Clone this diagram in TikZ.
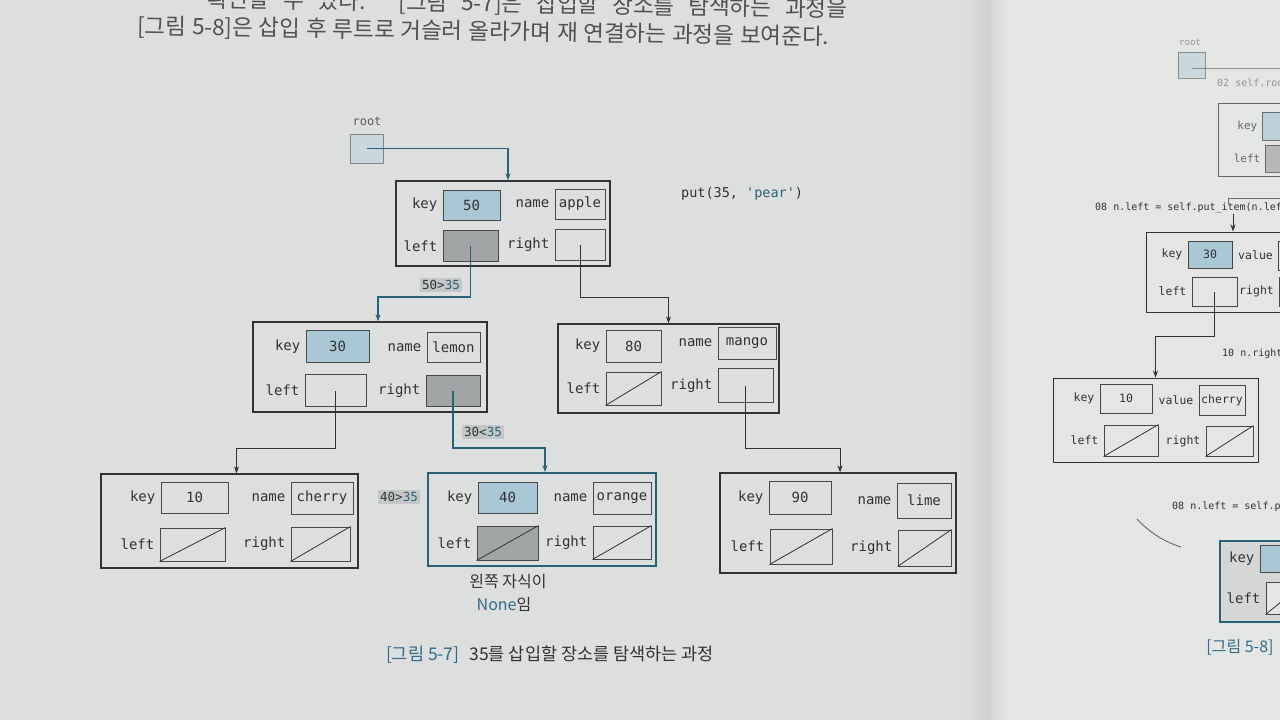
\documentclass[tikz,border=0pt]{standalone}
\usepackage{fontspec}
\newfontfamily\mono{DejaVu Sans Mono}
\newfontfamily\kr{Noto Sans CJK KR}
\usetikzlibrary{arrows.meta,positioning,calc}
\definecolor{pageL}{RGB}{220,223,221}
\definecolor{pageR}{RGB}{228,230,228}
\definecolor{gutter}{RGB}{208,211,209}
\definecolor{ink}{RGB}{48,50,52}
\definecolor{pathc}{RGB}{40,98,120}
\definecolor{keyblue}{RGB}{170,199,213}
\definecolor{rootblue}{RGB}{200,216,222}
\definecolor{boxgray}{RGB}{162,165,165}
\definecolor{lblbg}{RGB}{195,199,199}
\definecolor{capblue}{RGB}{48,108,140}
% field: name, x, y, w, h, style, text, label
\newcommand\fld[8]{%
  \node[cell,minimum width=#4pt,minimum height=#5pt,#6] (#1) at (#2,#3) {#7};
  \node[lbl,left=5pt of #1] (#1t) {#8};}
\begin{document}
\begin{tikzpicture}[x=1pt,y=-1pt,
  rec/.style={draw=ink,line width=1.3pt,rectangle,inner sep=0pt},
  hotrec/.style={rec,draw=pathc,line width=1.8pt},
  cell/.style={draw=ink!90,line width=0.9pt,rectangle,inner sep=0pt,font=\mono\fontsize{14}{16}\selectfont,text=ink},
  lbl/.style={font=\mono\fontsize{14}{16}\selectfont,text=ink,inner sep=0pt},
  conn/.style={draw=ink,line width=0.9pt,-{Stealth[length=7pt,width=5pt]}},
  hot/.style={conn,draw=pathc,line width=1.3pt},
  cmp/.style={fill=lblbg,font=\mono\fontsize{12.5}{14}\selectfont,text=ink,inner sep=2.5pt},
  krt/.style={font=\kr\fontsize{16}{19}\selectfont,text=ink,inner sep=0pt},
  hdr/.style={font=\kr\fontsize{22.5}{26}\selectfont,text=ink!85,inner sep=0pt},
  nil/.style={draw=ink,line width=0.8pt},
  code/.style={font=\mono\fontsize{10}{12}\selectfont,text=ink,inner sep=0pt}
]
\useasboundingbox (0,0) rectangle (1280,720);
\clip (0,0) rectangle (1280,720);
% pages
\fill[pageL] (0,0) rectangle (988,720);
\fill[pageR] (988,0) rectangle (1280,720);
\shade[left color=pageL,right color=gutter] (962,0) rectangle (988,720);
\shade[left color=gutter,right color=pageR] (988,0) rectangle (1008,720);

% header text
\node[hdr,anchor=base west,rotate=-0.9] (h1) at (207,7) {\makebox[640pt][s]{확인할 수 있다. [그림 5-7]은 삽입할 장소를 탐색하는 과정을}};
\node[hdr,anchor=base west,rotate=-0.9] (h2) at (137,34) {\makebox[692pt][s]{[그림 5-8]은 삽입 후 루트로 거슬러 올라가며 재 연결하는 과정을 보여준다.}};

% root
\node[font=\mono\fontsize{12}{14}\selectfont,text=ink!80,inner sep=0pt] (rootlbl) at (367,121) {root};
\node[draw=ink!60,fill=rootblue,line width=0.8pt,minimum width=33pt,minimum height=29pt,inner sep=0pt] (root) at (366.5,148.5) {};

% node 50
\node[rec,minimum width=214pt,minimum height=85pt] (n50) at (503,223.5) {};
\fld{n50k}{471.5}{205}{57}{30}{fill=keyblue}{50}{key}
\fld{n50n}{580}{204}{50}{30}{}{apple}{name}
\fld{n50l}{470.5}{246}{55}{31}{fill=boxgray}{}{left}
\fld{n50r}{580}{245}{50}{31}{}{}{right}

\node[font=\mono\fontsize{13.5}{16}\selectfont,text=ink,anchor=west,inner sep=0pt] (put) at (681,194) {put(35, \textcolor{pathc}{\textquotesingle pear\textquotesingle})};

% node 30
\node[rec,minimum width=234pt,minimum height=90pt] (n30) at (370,367) {};
\fld{n30k}{337.5}{346.5}{63}{32}{fill=keyblue}{30}{key}
\fld{n30n}{453.5}{347.5}{53}{30}{}{lemon}{name}
\fld{n30l}{335.5}{390.5}{61}{32}{}{}{left}
\fld{n30r}{453}{391}{54}{31}{fill=boxgray}{}{right}

% node 80
\node[rec,minimum width=221pt,minimum height=89pt] (n80) at (668.5,368.5) {};
\fld{n80k}{633.5}{346}{55}{32}{}{80}{key}
\fld{n80n}{747}{343}{58}{32}{}{mango}{name}
\fld{n80l}{633.5}{388.5}{55}{33}{}{}{left}
\fld{n80r}{745.5}{385.5}{55}{34}{}{}{right}

% node 10
\node[rec,minimum width=257pt,minimum height=94pt] (n10) at (229.5,521) {};
\fld{n10k}{194.5}{497.5}{67}{31}{}{10}{key}
\fld{n10n}{322}{498}{62}{32}{}{cherry}{name}
\fld{n10l}{192.5}{544.5}{65}{33}{}{}{left}
\fld{n10r}{320.5}{544}{59}{34}{}{}{right}

% node 40
\node[hotrec,minimum width=228pt,minimum height=93pt] (n40) at (542,519.5) {};
\fld{n40k}{507.5}{497.5}{59}{31}{fill=keyblue}{40}{key}
\fld{n40n}{622}{498}{58}{32}{}{orange}{name}
\fld{n40l}{507.5}{543}{61}{34}{fill=boxgray}{}{left}
\fld{n40r}{622}{542.5}{58}{33}{}{}{right}

% node 90
\node[rec,minimum width=236pt,minimum height=100pt] (n90) at (838,523) {};
\fld{n90k}{800}{497.5}{62}{33}{}{90}{key}
\fld{n90n}{924}{500.5}{54}{35}{}{lime}{name}
\fld{n90l}{801}{546.5}{62}{35}{}{}{left}
\fld{n90r}{924.5}{548}{53}{36}{}{}{right}

\foreach \c in {n80l,n10l,n10r,n40l,n40r,n90l,n90r}
  \draw[nil] (\c.south west) -- (\c.north east);

% connectors
\coordinate (lv1) at (0,297);
\coordinate (lv2) at (0,448);
\draw[hot] (root.center) -| ([xshift=5pt]n50.north);
\draw[hot] (n50l.center) -- (n50l.center |- lv1) -| ([xshift=8pt]n30.north);
\draw[conn] (n50r.center) -- (n50r.center |- lv1) -| (n80.north);
\draw[conn] (n30l.center) -- (n30l.center |- lv2) -| ([xshift=7pt]n10.north);
\draw[hot] (n30r.center) -- (n30r.center |- lv2) -| ([xshift=3pt]n40.north);
\draw[conn] (n80r.center) -- (n80r.center |- lv2) -| ([xshift=2pt]n90.north);

% comparison labels
\node[cmp] (c1) at (441,285) {50>\textcolor{pathc}{35}};
\node[cmp] (c2) at (483,432) {30<\textcolor{pathc}{35}};
\node[cmp] (c3) at (399,497) {40>\textcolor{pathc}{35}};

% note under 40
\node[krt] (note1) at (508,582) {왼쪽 자식이};
\node[krt] (note2) at (504,604) {\textcolor{capblue}{None}임};

% caption
\node[font=\kr\fontsize{17.5}{20}\selectfont,text=ink,inner sep=0pt] (cap) at (550,655) {\textcolor{capblue}{[그림 5-7]}\hspace{10pt}35를 삽입할 장소를 탐색하는 과정};

% ---------------- right page (partly visible) ----------------
\begin{scope}[opacity=0.45]
  \node[font=\mono\fontsize{9}{10}\selectfont,text=ink,inner sep=0pt] (rrootlbl) at (1190,42) {root};
  \node[draw=ink,fill=keyblue,line width=0.7pt,minimum width=27pt,minimum height=26pt,inner sep=0pt] (rroot) at (1191.5,65) {};
  \coordinate (rrootend) at (1290,68);
  \draw[ink,line width=0.8pt] (rroot.center |- rrootend) -- (rrootend);
  \node[code,anchor=west] (rc02) at (1217,84) {02 self.root = self.put\_item(};
\end{scope}
\begin{scope}[opacity=0.7]
  \node[rec,line width=1pt,minimum width=90pt,minimum height=73pt] (rtop) at (1263,139.5) {};
  \node[cell,fill=keyblue,minimum width=40pt,minimum height=28pt] (rtopk) at (1282,126) {};
  \node[lbl,font=\mono\fontsize{11}{13}\selectfont,left=4pt of rtopk] (rtopkt) {key};
  \node[cell,fill=boxgray,minimum width=40pt,minimum height=27pt] (rtopl) at (1285,158.5) {};
  \node[lbl,font=\mono\fontsize{11}{13}\selectfont,left=4pt of rtopl] (rtoplt) {left};
\end{scope}
\draw[ink!70,line width=0.7pt] (1228,204) -- (1228,198) -- (1290,198);
\node[code,anchor=west] (rc08a) at (1095,208) {08 n.left = self.put\_item(n.left, key, value)};

\begin{scope}[cell/.append style={font=\mono\fontsize{11.5}{13}\selectfont},lbl/.append style={font=\mono\fontsize{11.5}{13}\selectfont}]
  % node 30 (right page)
  \node[rec,line width=1pt,minimum width=160pt,minimum height=80pt] (r30) at (1226,272) {};
  \fld{r30k}{1210}{254.5}{44}{27}{fill=keyblue}{30}{key}
  \fld{r30v}{1300}{255.5}{43}{29}{}{}{value}
  \fld{r30l}{1214.5}{291.5}{45}{29}{}{}{left}
  \fld{r30r}{1301}{291.5}{43}{29}{}{}{right}
  % node 10 (right page)
  \node[rec,line width=1pt,minimum width=205pt,minimum height=84pt] (r10) at (1155.5,420) {};
  \fld{r10k}{1126}{398.5}{52}{29}{}{10}{key}
  \fld{r10v}{1222}{400}{46}{30}{}{cherry}{value}
  \fld{r10l}{1131}{440.5}{54}{31}{}{}{left}
  \fld{r10r}{1229.5}{441}{47}{30}{}{}{right}
\end{scope}
\foreach \c in {r10l,r10r}
  \draw[nil] (\c.south west) -- (\c.north east);
\coordinate (ra) at (1233,214);
\draw[conn,line width=0.7pt] (ra) -- (ra |- r30.north);
\coordinate (lv3) at (0,336);
\draw[conn,line width=0.8pt] (r30l.center) -- (r30l.center |- lv3) -| (r10.north);
\node[code,anchor=west] (rc10) at (1222,354) {10 n.right = self.put\_item(};
\node[code,anchor=west] (rc08b) at (1172,507) {08 n.left = self.put\_item(};
\draw[ink!80,line width=0.8pt] (1137,519) .. controls (1150,533) and (1165,542) .. (1181,547);

% bottom partial node (right page)
\node[rec,draw=pathc,line width=1.8pt,fill=boxgray!45,minimum width=90pt,minimum height=81pt] (rbot) at (1265,581.5) {};
\node[cell,fill=keyblue,minimum width=44pt,minimum height=27pt] (rbotk) at (1282,558.5) {};
\node[lbl,left=5pt of rbotk] (rbotkt) {key};
\node[cell,fill=pageR,minimum width=40pt,minimum height=32pt] (rbotl) at (1286,598) {};
\node[lbl,left=5pt of rbotl] (rbotlt) {left};
\draw[nil] (rbotl.south west) -- (rbotl.north east);
\node[font=\kr\fontsize{16}{19}\selectfont,text=capblue,inner sep=0pt] (cap2) at (1240,647) {[그림 5-8]};
\end{tikzpicture}
\end{document}
